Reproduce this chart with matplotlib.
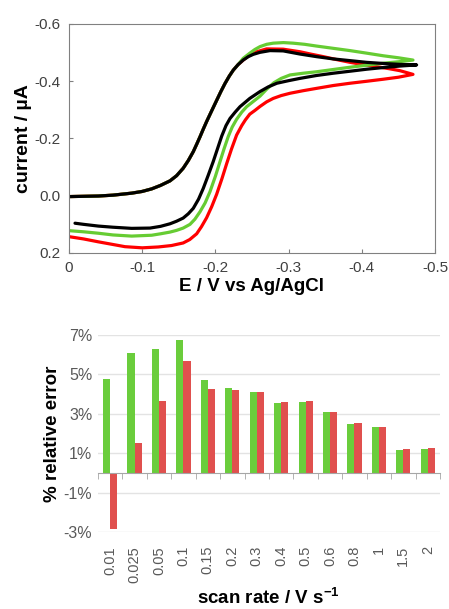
"""
CV curves (top) and relative error per scan rate (bottom)
"""
import matplotlib
matplotlib.use('Agg')
import matplotlib.pyplot as plt
from matplotlib.ticker import FuncFormatter, FixedLocator

plt.rcParams['font.family'] = ['Liberation Sans', 'DejaVu Sans']
plt.rcParams['mathtext.fontset'] = 'custom'
plt.rcParams['mathtext.rm'] = 'Liberation Sans:bold'
plt.rcParams['mathtext.default'] = 'rm'

# ---- CV data (E / V, I / uA): forward branch, then return branch ----
# common start of the forward scan (all three curves overlap here)
rise_E = [0.0, -0.02, -0.04, -0.06, -0.0856, -0.1, -0.113, -0.125, -0.138, -0.147,
          -0.156, -0.163, -0.1698, -0.175, -0.179, -0.1835, -0.188, -0.195, -0.2017,
          -0.2075, -0.2131, -0.219, -0.2245, -0.231]
rise_I = [0.003, 0.002, 0.001, -0.002, -0.009, -0.015, -0.024, -0.036, -0.052, -0.07,
          -0.096, -0.123, -0.154, -0.183, -0.206, -0.233, -0.259, -0.297, -0.333,
          -0.364, -0.392, -0.418, -0.439, -0.458]

black_E = rise_E + [-0.238, -0.245, -0.2518, -0.261, -0.2746, -0.2927, -0.3156, -0.338,
                    -0.361, -0.384, -0.4067, -0.43, -0.452, -0.475,
                    -0.452, -0.43, -0.4067, -0.384, -0.361, -0.338, -0.3156, -0.3,
                    -0.284, -0.272, -0.261, -0.254, -0.247, -0.2336, -0.227, -0.22,
                    -0.2145, -0.2086, -0.203, -0.197, -0.19, -0.1835, -0.177, -0.1698,
                    -0.163, -0.156, -0.147, -0.138, -0.125, -0.1107, -0.0856, -0.06,
                    -0.04, -0.02, -0.0082]
black_I = rise_I + [-0.474, -0.486, -0.494, -0.501, -0.507, -0.506, -0.495, -0.486,
                    -0.478, -0.472, -0.466, -0.462, -0.459, -0.457,
                    -0.453, -0.448, -0.442, -0.435, -0.428, -0.42, -0.41, -0.402,
                    -0.393, -0.38, -0.364, -0.352, -0.34, -0.311, -0.292, -0.27,
                    -0.245, -0.208, -0.165, -0.119, -0.07, -0.026, 0.012, 0.044,
                    0.063, 0.078, 0.089, 0.098, 0.107, 0.113, 0.114, 0.11,
                    0.106, 0.1, 0.096]

green_E = rise_E + [-0.238, -0.247, -0.254, -0.261, -0.27, -0.279, -0.293, -0.3064,
                    -0.322, -0.338, -0.361, -0.384, -0.407, -0.4293, -0.45, -0.47,
                    -0.45, -0.4293, -0.407, -0.384, -0.361, -0.338, -0.32, -0.302,
                    -0.29, -0.28, -0.27, -0.261, -0.2427, -0.236, -0.229, -0.223,
                    -0.2176, -0.212, -0.2063, -0.2, -0.1926, -0.186, -0.179, -0.172,
                    -0.1653, -0.156, -0.147, -0.138, -0.125, -0.113, -0.0856, -0.06,
                    -0.04, -0.02, 0.0]
green_I = rise_I + [-0.48, -0.498, -0.511, -0.521, -0.529, -0.533, -0.535, -0.533,
                    -0.529, -0.523, -0.515, -0.507, -0.498, -0.489, -0.482, -0.474,
                    -0.468, -0.463, -0.456, -0.449, -0.441, -0.433, -0.428, -0.422,
                    -0.41, -0.395, -0.372, -0.348, -0.311, -0.292, -0.267, -0.24,
                    -0.207, -0.165, -0.119, -0.068, -0.014, 0.025, 0.056, 0.082,
                    0.1, 0.113, 0.121, 0.127, 0.133, 0.138, 0.141, 0.137,
                    0.131, 0.126, 0.122]

red_E = rise_E + [-0.238, -0.245, -0.2564, -0.27, -0.2927, -0.3156, -0.33, -0.3474,
                  -0.365, -0.384, -0.40, -0.42, -0.437, -0.452, -0.47,
                  -0.45, -0.4293, -0.407, -0.384, -0.361, -0.338, -0.32, -0.302,
                  -0.29, -0.279, -0.27, -0.261, -0.254, -0.247, -0.241, -0.236,
                  -0.229, -0.222, -0.2154, -0.209, -0.2017, -0.195, -0.188,
                  -0.181, -0.1744, -0.165, -0.156, -0.14, -0.122, -0.1, -0.0765,
                  -0.04, -0.02, 0.0]
red_I = rise_I + [-0.474, -0.488, -0.503, -0.513, -0.512, -0.503, -0.495, -0.486,
                  -0.476, -0.466, -0.459, -0.451, -0.444, -0.437, -0.424,
                  -0.414, -0.407, -0.4, -0.393, -0.385, -0.375, -0.367, -0.358,
                  -0.35, -0.34, -0.328, -0.312, -0.298, -0.285, -0.265, -0.245,
                  -0.212, -0.163, -0.112, -0.06, -0.005, 0.038, 0.077,
                  0.108, 0.133, 0.153, 0.165, 0.174, 0.179, 0.182, 0.178,
                  0.161, 0.151, 0.143]

# ---- relative error data ----
scan_rates = ['0.01', '0.025', '0.05', '0.1', '0.15', '0.2', '0.3', '0.4',
              '0.5', '0.6', '0.8', '1', '1.5', '2']
err_green = [4.76, 6.09, 6.26, 6.71, 4.70, 4.30, 4.11, 3.56, 3.61, 3.07, 2.48, 2.34, 1.18, 1.23]
err_red = [-2.87, 1.52, 3.66, 5.68, 4.27, 4.18, 4.11, 3.61, 3.66, 3.10, 2.53, 2.34, 1.23, 1.28]

GREEN = '#66CC33'
RED = '#FF0000'
BAR_GREEN = '#6ACD3C'
BAR_RED = '#E0504E'

fig = plt.figure(figsize=(4.49, 6.09), dpi=100)

# 1. CV
ax = fig.add_axes([0.1537, 0.5846, 0.815, 0.376])
for E, I, c in [(red_E, red_I, RED), (green_E, green_I, GREEN), (black_E, black_I, 'black')]:
    ax.plot(E, I, color=c, linewidth=2.3, solid_capstyle='round', solid_joinstyle='round')
ax.set_xlim(0, -0.5)
ax.set_ylim(0.2, -0.6)
ax.set_xticks([0, -0.1, -0.2, -0.3, -0.4, -0.5])
ax.set_xticklabels(['0', '-0.1', '-0.2', '-0.3', '-0.4', '-0.5'])
ax.set_yticks([0.2, 0.0, -0.2, -0.4, -0.6])
ax.set_yticklabels(['0.2', '0.0', '-0.2', '-0.4', '-0.6'])
ax.tick_params(direction='in', length=3, color='#808080', labelsize=11,
               labelcolor='#404040', pad=6)
for sp in ax.spines.values():
    sp.set_color('#808080')
ax.set_xlabel('E / V vs Ag/AgCl', fontsize=13.5, fontweight='bold', labelpad=2)
ax.set_ylabel('current / µA', fontsize=14, fontweight='bold', labelpad=2)

# 2. relative error bars
ax = fig.add_axes([0.218, 0.1264, 0.762, 0.324])
x = list(range(len(scan_rates)))
w = 0.29
ax.bar([i - w / 2 for i in x], err_green, width=w, color=BAR_GREEN)
ax.bar([i + w / 2 for i in x], err_red, width=w, color=BAR_RED)
ax.set_xlim(-0.5, len(scan_rates) - 0.5)
ax.set_ylim(-3, 7)
ax.set_yticks([-3, -1, 1, 3, 5, 7])
ax.yaxis.set_major_formatter(FuncFormatter(lambda v, p: f'{v:.0f}%'))
ax.grid(axis='y', color='#E3E3E3', linewidth=1)
ax.set_axisbelow(True)
for name in ['top', 'right', 'left']:
    ax.spines[name].set_visible(False)
ax.spines['bottom'].set_position(('data', 0))
ax.spines['bottom'].set_color('#A6A6A6')
ax.set_xticks(x)
ax.set_xticklabels([])
ax.xaxis.set_minor_locator(FixedLocator([i - 0.5 for i in range(len(scan_rates) + 1)]))
ax.tick_params(axis='x', which='major', length=0)
ax.tick_params(axis='x', which='minor', length=4, color='#A6A6A6', direction='out')
ax.tick_params(axis='y', length=0, labelsize=11.5, labelcolor='#595959', pad=4)

sec = ax.secondary_xaxis(0)
sec.set_xticks(x)
sec.set_xticklabels(scan_rates, rotation=90)
sec.tick_params(length=0, labelsize=10.5, labelcolor='#595959', pad=10)
sec.spines['bottom'].set_visible(False)
sec.set_xlabel('scan rate / V s$^{-1}$', fontsize=13.5, fontweight='bold', labelpad=4)
ax.set_ylabel('% relative error', fontsize=13.5, fontweight='bold', labelpad=2)

plt.savefig('out.png', dpi=100)
plt.close()
